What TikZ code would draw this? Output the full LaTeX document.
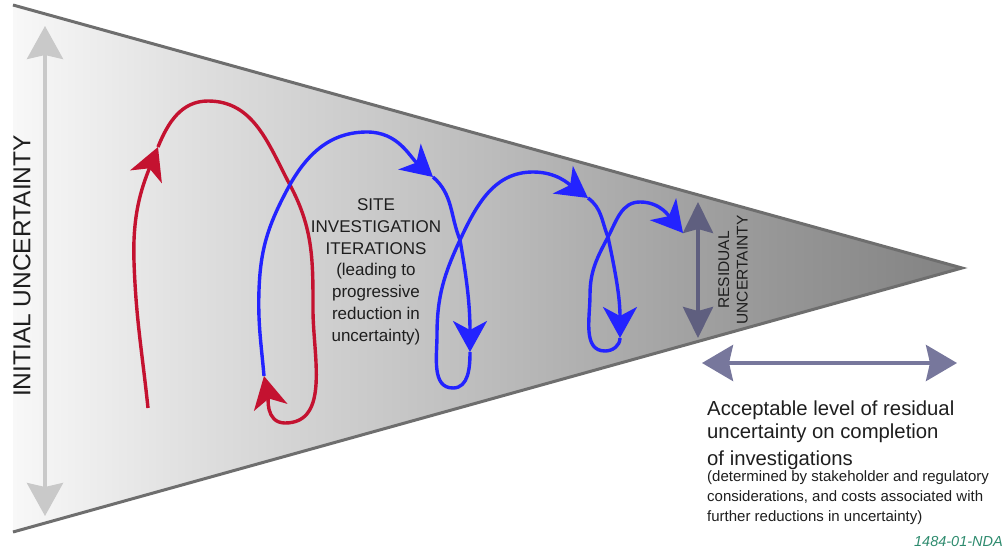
\documentclass[tikz,border=0pt]{standalone}
\usepackage{fontspec}
\setmainfont{Liberation Sans}
\usetikzlibrary{arrows.meta}

\definecolor{coneA}{HTML}{F8F8F8}
\definecolor{coneB}{HTML}{DEDEDE}
\definecolor{coneC}{HTML}{BCBCBC}
\definecolor{coneD}{HTML}{979797}
\definecolor{coneE}{HTML}{828282}
\definecolor{coneedge}{HTML}{6E6E6E}
\definecolor{iugray}{HTML}{C9C9C9}
\definecolor{loopred}{HTML}{C41230}
\definecolor{loopblue}{HTML}{2323FF}
\definecolor{residslate}{HTML}{5F5F7F}
\definecolor{acceptslate}{HTML}{77779C}
\definecolor{codegreen}{HTML}{2E8B6E}
\definecolor{inktext}{HTML}{1E1E1E}

% light-to-dark horizontal fill of the uncertainty cone
% (the path's width is mapped onto 25bp..75bp)
\pgfdeclarehorizontalshading{conegrad}{100bp}{%
  color(0bp)=(coneA); color(25bp)=(coneA); color(35bp)=(coneB);
  color(50bp)=(coneC); color(65bp)=(coneD); color(75bp)=(coneE);
  color(100bp)=(coneE)}

\tikzset{
  coneedge/.style={draw=coneedge, line width=3pt, line join=miter},
  redloop/.style={draw=loopred, line width=3.4pt, -{Stealth[length=32pt, width=34pt, inset=9pt]}},
  blueloop/.style={draw=loopblue, line width=3.4pt, -{Stealth[length=31pt, width=34pt, inset=9pt]}},
  iuarrow/.style={draw=iugray, line width=4pt,
    {Stealth[length=33pt, width=36pt, inset=4pt]}-{Stealth[length=33pt, width=36pt, inset=4pt]}},
  residarrow/.style={draw=residslate, line width=4pt,
    {Stealth[length=31pt, width=30pt, inset=4pt]}-{Stealth[length=31pt, width=30pt, inset=4pt]}},
  acceptarrow/.style={draw=acceptslate, line width=4pt,
    {Stealth[length=31pt, width=36pt, inset=4pt]}-{Stealth[length=31pt, width=36pt, inset=4pt]}},
  label/.style={text=inktext, inner sep=0pt},
}

\begin{document}
\begin{tikzpicture}[x=1pt, y=1pt]
\useasboundingbox (0,0) rectangle (1006,-553);

% the cone
\coordinate (tl)  at (13,-5);
\coordinate (bl)  at (13,-532);
\coordinate (tip) at (962,-268);
\shade[shading=conegrad] (tl) -- (tip) -- (bl) -- cycle;
\draw[coneedge] (tl) -- (tip) -- (bl);

% initial uncertainty
\coordinate (iutop) at (45,-26);
\coordinate (iubot) at (45,-516);
\draw[iuarrow] (iubot) -- (iutop);
\node[label, rotate=90, font=\fontsize{24.5}{29}\selectfont] (initial) at (22,-266) {INITIAL UNCERTAINTY};

% first (red) iteration
\coordinate (r0) at (148,-408);
\coordinate (r1) at (158,-147);
\coordinate (r2) at (264,-376);
\draw[redloop] (r0) to[out=96,in=-88] (134,-262) to[out=92,in=-112] (r1);
\draw[redloop] (r1) to[out=68,in=180] (208,-101) to[out=0,in=118] (290,-185)
  to[out=-62,in=90] (313,-310) to[out=-90,in=0] (285,-423) to[out=180,in=-78] (r2);

% following (blue) iterations
\coordinate (b1) at (433,-177);
\coordinate (b2) at (470,-352);
\coordinate (b3) at (588,-198);
\coordinate (b4) at (620,-338);
\coordinate (b5) at (683,-233);
\draw[blueloop] (r2) to[out=95,in=-92] (259,-290) to[out=88,in=-118] (287,-190)
  to[out=62,in=180] (367,-132) to[out=0,in=139] (b1);
\draw[blueloop] (b1) to[out=-41,in=112] (460,-240) to[out=-80,in=90] (b2);
\draw[blueloop] (b2) to[out=-90,in=0] (453,-388) to[out=180,in=-90] (437,-335)
  to[out=90,in=-115] (460,-240) to[out=65,in=180] (533,-172) to[out=0,in=144] (b3);
\draw[blueloop] (b3) to[out=-36,in=112] (608,-237) to[out=-78,in=90] (b4);
\draw[blueloop] (b4) to[out=-90,in=0] (605,-351) to[out=180,in=-90] (590,-295)
  to[out=90,in=-118] (608,-237) to[out=62,in=180] (640,-202) to[out=0,in=130] (b5);

% multi-line nodes: the base anchor sits on the last line
\node[label, align=center, anchor=base, font=\fontsize{17}{21.7}\selectfont] (site) at (376,-341)
  {SITE\\INVESTIGATION\\ITERATIONS\\(leading to\\progressive\\reduction in\\uncertainty)};

% residual uncertainty
\coordinate (rutop) at (698,-202);
\coordinate (rubot) at (698,-338);
\draw[residarrow] (rubot) -- (rutop);
\node[label, rotate=90, align=center, font=\fontsize{15.5}{18.5}\selectfont] (resid) at (733,-270)
  {RESIDUAL\\UNCERTAINTY};

% acceptable level
\coordinate (acleft)  at (702,-363);
\coordinate (acright) at (957,-363);
\draw[acceptarrow] (acleft) -- (acright);
\node[label, align=left, anchor=base west, font=\fontsize{20.3}{23}\selectfont] (accept) at (707,-465)
  {Acceptable level of residual\\uncertainty on completion\\[4pt]of investigations};
\node[label, align=left, anchor=base west, font=\fontsize{15}{20}\selectfont] (acceptnote) at (707,-521)
  {(determined by stakeholder and regulatory\\considerations, and costs associated with\\further reductions in uncertainty)};

\node[inner sep=0pt, anchor=base east, text=codegreen, font=\fontsize{14.5}{17}\selectfont\itshape] (code) at (1003,-546)
  {1484-01-NDA};
\end{tikzpicture}
\end{document}
